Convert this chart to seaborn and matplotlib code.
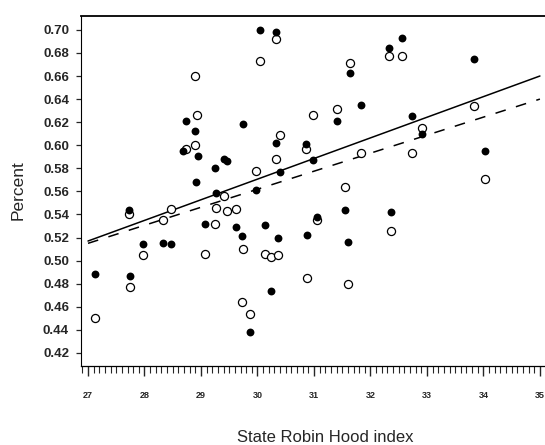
import numpy as np
import pandas as pd
import matplotlib
matplotlib.use("Agg")
import matplotlib.pyplot as plt
import seaborn as sns
from matplotlib.ticker import MultipleLocator, FixedLocator

# ---- data ----
filled_x = [27.12, 27.73, 27.74, 27.97, 28.33, 28.47, 28.68, 28.73, 28.89, 28.94,
            28.91, 29.07, 29.25, 29.27, 29.40, 29.46, 29.62, 29.72, 29.74, 29.86,
            29.98, 30.05, 30.14, 30.24, 30.32, 30.33, 30.36, 30.39, 30.86, 30.87,
            30.98, 31.05, 31.41, 31.55, 31.60, 31.64, 31.84, 32.32, 32.37, 32.56,
            32.73, 32.92, 33.83, 34.02]
filled_y = [0.488, 0.544, 0.487, 0.514, 0.515, 0.514, 0.595, 0.621, 0.612, 0.591,
            0.568, 0.532, 0.580, 0.559, 0.588, 0.586, 0.529, 0.521, 0.618, 0.438,
            0.561, 0.700, 0.531, 0.474, 0.602, 0.698, 0.520, 0.577, 0.601, 0.522,
            0.587, 0.538, 0.621, 0.544, 0.516, 0.663, 0.635, 0.684, 0.542, 0.693,
            0.625, 0.610, 0.675, 0.595]

open_x = [27.12, 27.73, 27.74, 27.97, 28.33, 28.47, 28.74, 28.90, 28.93, 28.90,
          29.07, 29.25, 29.27, 29.40, 29.46, 29.62, 29.73, 29.74, 29.86, 29.98,
          30.05, 30.14, 30.24, 30.32, 30.33, 30.36, 30.39, 30.86, 30.87, 30.98,
          31.05, 31.41, 31.55, 31.60, 31.64, 31.84, 32.32, 32.37, 32.56, 32.73,
          32.92, 33.83, 34.02]
open_y = [0.450, 0.540, 0.477, 0.505, 0.535, 0.545, 0.597, 0.660, 0.626, 0.600,
          0.506, 0.532, 0.546, 0.556, 0.543, 0.545, 0.464, 0.510, 0.454, 0.578,
          0.673, 0.506, 0.503, 0.588, 0.692, 0.505, 0.609, 0.597, 0.485, 0.626,
          0.535, 0.631, 0.564, 0.480, 0.671, 0.593, 0.677, 0.526, 0.677, 0.593,
          0.615, 0.634, 0.571]

fit_x = [27.0, 35.0]
solid_fit_y = [0.517, 0.660]
dashed_fit_y = [0.515, 0.640]

y_ticks = [0.42, 0.44, 0.46, 0.48, 0.50, 0.52, 0.54, 0.56, 0.58, 0.60,
           0.62, 0.64, 0.66, 0.68, 0.70]
x_ticks = [27, 28, 29, 30, 31, 32, 33, 34, 35]

# ---- plot ----
sns.set_style("ticks")
plt.rcParams["font.family"] = ["Liberation Sans", "DejaVu Sans"]

fig = plt.figure(figsize=(5.45, 4.45), dpi=100)
ax = fig.add_axes([81 / 545, 1 - 366 / 445, (545 - 81) / 545, (366 - 16) / 445])

df_open = pd.DataFrame({"x": open_x, "y": open_y})
df_filled = pd.DataFrame({"x": filled_x, "y": filled_y})
df_solid = pd.DataFrame({"x": fit_x, "y": solid_fit_y})
df_dashed = pd.DataFrame({"x": fit_x, "y": dashed_fit_y})

sns.lineplot(data=df_solid, x="x", y="y", ax=ax, color="black", lw=1.1)
sns.lineplot(data=df_dashed, x="x", y="y", ax=ax, color="black", lw=1.1,
             dashes=False)
ax.lines[-1].set_dashes((7, 7))

sns.scatterplot(data=df_open, x="x", y="y", ax=ax, s=34, facecolor="white",
                edgecolor="black", linewidth=0.9, zorder=3)
sns.scatterplot(data=df_filled, x="x", y="y", ax=ax, s=32, color="black",
                linewidth=0, zorder=4)

ax.set_xlim(26.876, 35.09)
ax.set_ylim(0.4087, 0.712)

ax.yaxis.set_major_locator(FixedLocator(y_ticks))
ax.set_yticklabels([f"{t:.2f}" for t in y_ticks], fontsize=9.5, fontweight="bold")
ax.xaxis.set_major_locator(FixedLocator(x_ticks))
ax.set_xticklabels([str(t) for t in x_ticks], fontsize=6.5, fontweight="bold")
ax.xaxis.set_minor_locator(MultipleLocator(0.1))

ax.tick_params(axis="y", direction="out", length=3.6, width=0.9, pad=5)
ax.tick_params(axis="x", which="major", direction="out", length=7.5, width=1.0, pad=10.5)
ax.tick_params(axis="x", which="minor", direction="out", length=5, width=0.8)

for s in ["left", "top", "bottom"]:
    ax.spines[s].set_visible(True)
    ax.spines[s].set_color("black")
ax.spines["left"].set_linewidth(0.8)
ax.spines["top"].set_linewidth(1.3)
ax.spines["bottom"].set_linewidth(0.9)
ax.spines["right"].set_visible(False)

ax.set_xlabel("")
ax.set_ylabel("")
fig.text(18 / 545, 1 - 190 / 445, "Percent", rotation=90, ha="center",
         va="center", fontsize=12.5)
fig.text(325 / 545, 1 - 437 / 445, "State Robin Hood index", ha="center",
         va="center", fontsize=12)

fig.savefig("out.png", dpi=100)
